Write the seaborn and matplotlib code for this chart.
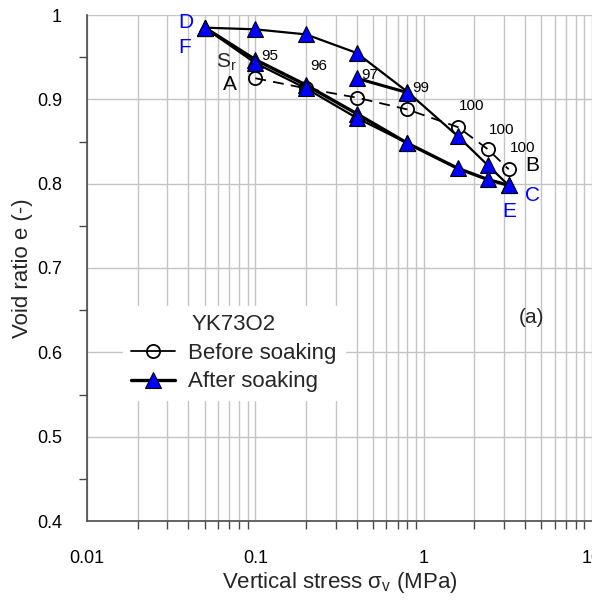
import matplotlib
matplotlib.use("Agg")
import matplotlib.pyplot as plt
import numpy as np
import pandas as pd
import seaborn as sns
from matplotlib.lines import Line2D
from matplotlib.ticker import FixedLocator, FixedFormatter, NullFormatter

# ---------------- data ----------------
before_stress = [0.1, 0.2, 0.4, 0.8, 1.6, 2.4, 3.2]
before_e = [0.925, 0.913, 0.902, 0.888, 0.867, 0.841, 0.817]

sr_labels = ["95", "96", "97", "99", "100", "100", "100"]
sr_x = [0.109, 0.211, 0.423, 0.85, 1.61, 2.43, 3.24]
sr_y = [0.951, 0.939, 0.929, 0.913, 0.892, 0.864, 0.842]

after_load_stress = [0.05, 0.1, 0.2, 0.4, 0.8, 1.6, 2.4, 3.2]
after_load_e = [0.985, 0.983, 0.977, 0.955, 0.909, 0.856, 0.822, 0.798]
after_unload_stress = [3.2, 2.4, 1.6, 0.8, 0.4, 0.2, 0.1, 0.05]
after_unload_e = [0.798, 0.805, 0.818, 0.848, 0.883, 0.917, 0.947, 0.985]
after_reload_stress = [0.05, 0.1, 0.2, 0.4, 0.8]
after_reload_e = [0.985, 0.943, 0.913, 0.878, 0.848]
after_extra_stress = [0.4, 0.8]
after_extra_e = [0.925, 0.908]

point_labels = ["D", "F", "A", "B", "C", "E"]
point_x = [0.0386, 0.038, 0.0705, 4.41, 4.41, 3.24]
point_y = [0.991, 0.962, 0.917, 0.821, 0.786, 0.767]
point_colors = ["#0000ff", "#0000ff", "black", "black", "#0000ff", "#0000ff"]

x_ticks = [0.01, 0.1, 1, 10]
x_ticklabels = ["0.01", "0.1", "1", "10"]
y_ticks = [0.4, 0.5, 0.6, 0.7, 0.8, 0.9, 1.0]
y_ticklabels = ["0.4", "0.5", "0.6", "0.7", "0.8", "0.9", "1"]

# ---------------- style ----------------
sns.set_theme(style="white")
plt.rcParams["font.family"] = ["Liberation Sans", "DejaVu Sans"]
plt.rcParams["mathtext.fontset"] = "custom"
plt.rcParams["mathtext.rm"] = "Liberation Sans"
plt.rcParams["mathtext.it"] = "Liberation Sans:italic"

fig = plt.figure(figsize=(5.92, 6.01), dpi=100)
ax = fig.add_axes([87 / 592, (601 - 521) / 601, (592 - 87) / 592, (521 - 15) / 601])
ax.set_xscale("log")
ax.set_xlim(0.01, 10)
ax.set_ylim(0.4, 1.0)

grid_col = "#c4c4c4"
ax.grid(True, which="both", axis="x", color=grid_col, lw=1.0)
ax.grid(True, which="major", axis="y", color=grid_col, lw=1.0)
ax.set_axisbelow(True)

spine_col = "#4a4a4a"
for s in ["top", "right"]:
    ax.spines[s].set_visible(False)
for s in ["left", "bottom"]:
    ax.spines[s].set_color(spine_col)
    ax.spines[s].set_linewidth(1.2)

# before soaking
df_before = pd.DataFrame({"stress": before_stress, "e": before_e})
sns.lineplot(data=df_before, x="stress", y="e", ax=ax, sort=False, estimator=None,
             color="black", lw=1.3, linestyle=(0, (6, 4)), marker="o", markersize=9.5,
             markerfacecolor="none", markeredgecolor="black", markeredgewidth=1.3,
             legend=False, zorder=3)

# after soaking
segs = [
    (after_load_stress, after_load_e, 1.6),
    (after_unload_stress, after_unload_e, 2.4),
    (after_reload_stress, after_reload_e, 1.6),
    (after_extra_stress, after_extra_e, 2.2),
]
for xs, ys, lw in segs:
    d = pd.DataFrame({"stress": xs, "e": ys})
    sns.lineplot(data=d, x="stress", y="e", ax=ax, sort=False, estimator=None,
                 color="black", lw=lw, marker="^", markersize=12,
                 markerfacecolor="#0000ff", markeredgecolor="black", markeredgewidth=0.8,
                 legend=False, zorder=4)

# Sr annotations
for t, x, y in zip(sr_labels, sr_x, sr_y):
    ax.text(x, y, t, fontsize=11, ha="left", va="center", color="black", zorder=6)

ax.text(0.0677, 0.944, "S$_\\mathregular{r}$", fontsize=15, ha="center", va="center", zorder=6)
for t, x, y, c in zip(point_labels, point_x, point_y, point_colors):
    ax.text(x, y, t, fontsize=15, ha="center", va="center", color=c, zorder=6)
ax.text(4.4, 0.641, "(a)", fontsize=15, ha="center", va="center")

# ticks
ax.xaxis.set_major_locator(FixedLocator(x_ticks))
ax.xaxis.set_major_formatter(FixedFormatter(x_ticklabels))
minor_x = [m * 10.0 ** k for k in range(-2, 1) for m in range(2, 10)]
ax.xaxis.set_minor_locator(FixedLocator(minor_x))
ax.xaxis.set_minor_formatter(NullFormatter())
ax.yaxis.set_major_locator(FixedLocator(y_ticks))
ax.yaxis.set_major_formatter(FixedFormatter(y_ticklabels))
ax.yaxis.set_minor_locator(FixedLocator([0.45, 0.55, 0.65, 0.75, 0.85, 0.95]))
ax.tick_params(axis="both", which="major", direction="out", length=12, width=1.1,
               color=spine_col, labelsize=13, labelcolor="black")
ax.tick_params(axis="both", which="minor", direction="out", length=6, width=1.0, color=spine_col)
ax.tick_params(axis="x", which="major", pad=9)
ax.tick_params(axis="y", which="major", pad=6)
ax.tick_params(axis="x", which="minor", bottom=True)
ax.tick_params(axis="y", which="minor", left=True)

ax.set_xlabel("Vertical stress σ$_\\mathregular{v}$ (MPa)", fontsize=16, labelpad=2)
ax.set_ylabel("Void ratio e (-)", fontsize=16, labelpad=3)

handles = [
    Line2D([], [], color="black", lw=1.3, marker="o", markersize=9.5, markerfacecolor="none",
           markeredgecolor="black", markeredgewidth=1.3),
    Line2D([], [], color="black", lw=2.4, marker="^", markersize=12, markerfacecolor="#0000ff",
           markeredgecolor="black", markeredgewidth=0.8),
]
leg = ax.legend(handles, ["Before soaking", "After soaking"], title="YK73O2",
                loc="upper left", bbox_to_anchor=(0.071, 0.425), fontsize=16, title_fontsize=16,
                frameon=True, fancybox=False, framealpha=1, edgecolor="white", facecolor="white",
                numpoints=1, handlelength=2.0, handletextpad=0.6, labelspacing=0.35,
                borderpad=0.35, borderaxespad=0)
leg.set_zorder(5)

fig.savefig("out.png", dpi=100)
